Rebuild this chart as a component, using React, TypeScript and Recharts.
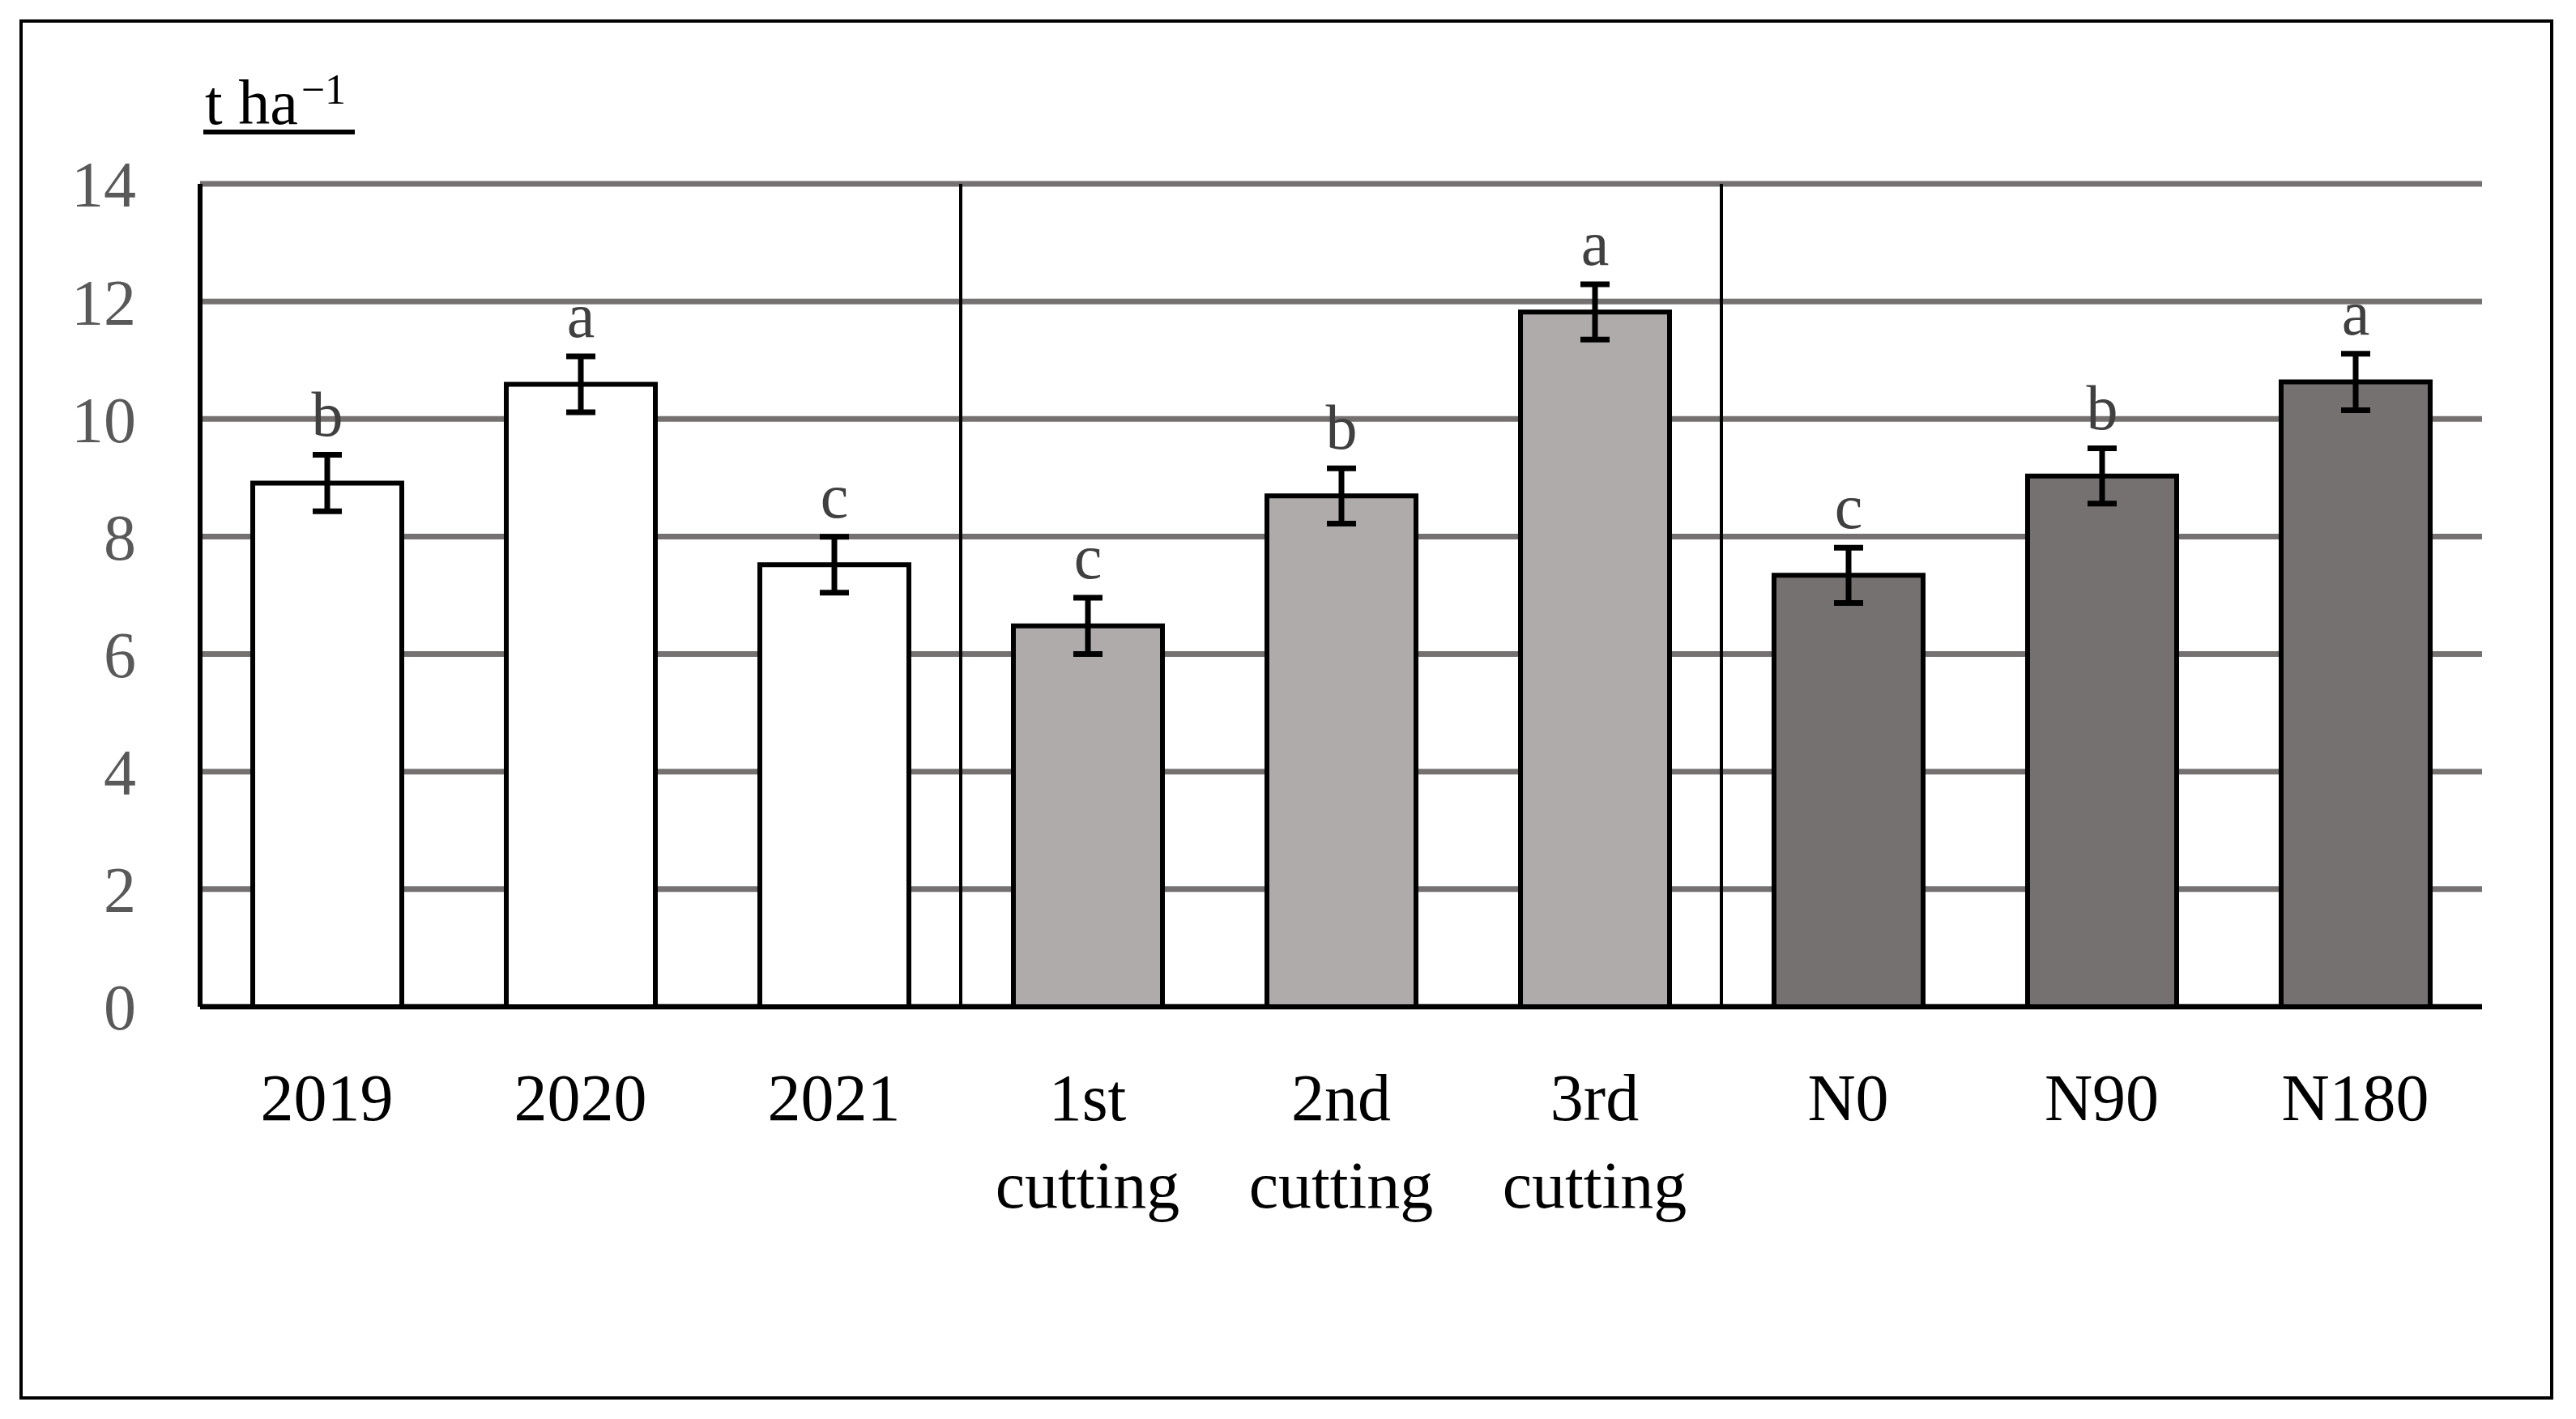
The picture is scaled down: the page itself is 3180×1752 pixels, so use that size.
import React from 'react';
import {
  ComposedChart,
  Bar,
  XAxis,
  YAxis,
  CartesianGrid,
  ErrorBar,
  Cell,
  LabelList,
  ReferenceLine,
} from 'recharts';

const categories = ['2019', '2020', '2021', '1st cutting', '2nd cutting', '3rd cutting', 'N0', 'N90', 'N180'];
const means = [8.91, 10.59, 7.52, 6.48, 8.69, 11.82, 7.34, 9.03, 10.63];
const errors = [0.48, 0.475, 0.475, 0.48, 0.47, 0.47, 0.47, 0.47, 0.48];
const letters = ['b', 'a', 'c', 'c', 'b', 'a', 'c', 'b', 'a'];
const groups = [0, 0, 0, 1, 1, 1, 2, 2, 2];
const groupFills = ['#FFFFFF', '#AFABAB', '#767171'];
const yTicks = [0, 2, 4, 6, 8, 10, 12, 14];
const separatorsAfter = ['2021', '3rd cutting'];
const unitMain = 't ha';
const unitSup = '\u22121';

const FONT = "'Liberation Serif', 'DejaVu Serif', serif";

const data = categories.map((c, i) => ({
  cat: c,
  value: means[i],
  err: errors[i],
  idx: i,
}));

const CatTick = (props: any) => {
  const { x, y, payload } = props;
  const lines = String(payload.value).split(' ');
  return (
    <text x={x} y={y + 140} textAnchor="middle" fill="#000" fontSize={82} fontFamily={FONT}>
      {lines.map((l, i) => (
        <tspan key={i} x={x} dy={i === 0 ? 0 : 108}>
          {l}
        </tspan>
      ))}
    </text>
  );
};

const LetterLabel = (props: any) => {
  const vb = props.viewBox || props;
  const x = vb.x ?? props.x;
  const y = vb.y ?? props.y;
  const width = vb.width ?? props.width;
  const height = vb.height ?? props.height;
  const i = Number(props.value);
  if (x == null || y == null || isNaN(i)) return null;
  const ppu = Math.abs(height) / means[i];
  const top = Math.min(y, y + height);
  const errTop = top - errors[i] * ppu;
  return (
    <text
      x={x + width / 2}
      y={errTop - 24}
      textAnchor="middle"
      fill="#404040"
      fontSize={78}
      fontFamily={FONT}
    >
      {letters[i]}
    </text>
  );
};

export default function App() {
  return (
    <div
      style={{
        position: 'absolute',
        left: 0,
        top: 0,
        width: 3180,
        height: 1752,
        background: '#fff',
        overflow: 'hidden',
      }}
    >
      <ComposedChart
        width={3180}
        height={1752}
        data={data}
        margin={{ top: 227, right: 116, bottom: 209, left: 47 }}
      >
        <CartesianGrid vertical={false} stroke="#767171" strokeWidth={7} />
        <XAxis
          dataKey="cat"
          interval={0}
          tickLine={false}
          tickSize={0}
          tickMargin={0}
          height={300}
          axisLine={{ stroke: '#000', strokeWidth: 6 }}
          tick={<CatTick />}
        />
        <YAxis
          domain={[0, 14]}
          ticks={yTicks}
          width={200}
          tickLine={false}
          tickSize={0}
          tickMargin={79}
          axisLine={{ stroke: '#000', strokeWidth: 6 }}
          tick={{ fill: '#595959', fontSize: 80, fontFamily: FONT }}
          allowDataOverflow
        />
        {separatorsAfter.map((s) => (
          <ReferenceLine key={s} x={s} position="end" stroke="#000" strokeWidth={4} />
        ))}
        <Bar dataKey="value" barSize={184} stroke="#000" strokeWidth={6} isAnimationActive={false}>
          {data.map((d, i) => (
            <Cell key={i} fill={groupFills[groups[i]]} />
          ))}
          <ErrorBar dataKey="err" width={18} stroke="#000" strokeWidth={7} direction="y" />
          <LabelList dataKey="idx" content={<LetterLabel />} />
        </Bar>
      </ComposedChart>
      <svg
        width={3180}
        height={1752}
        style={{ position: 'absolute', left: 0, top: 0, pointerEvents: 'none' }}
      >
        <rect x={26} y={26} width={3124} height={1700} fill="none" stroke="#000" strokeWidth={4} />
        <text x={253} y={153} fill="#000" fontSize={78} fontFamily={FONT}>
          {unitMain}
          <tspan fontSize={52} dy={-25} dx={4}>
            {unitSup}
          </tspan>
        </text>
        <line x1={251} y1={163} x2={438} y2={163} stroke="#000" strokeWidth={6} />
      </svg>
    </div>
  );
}
